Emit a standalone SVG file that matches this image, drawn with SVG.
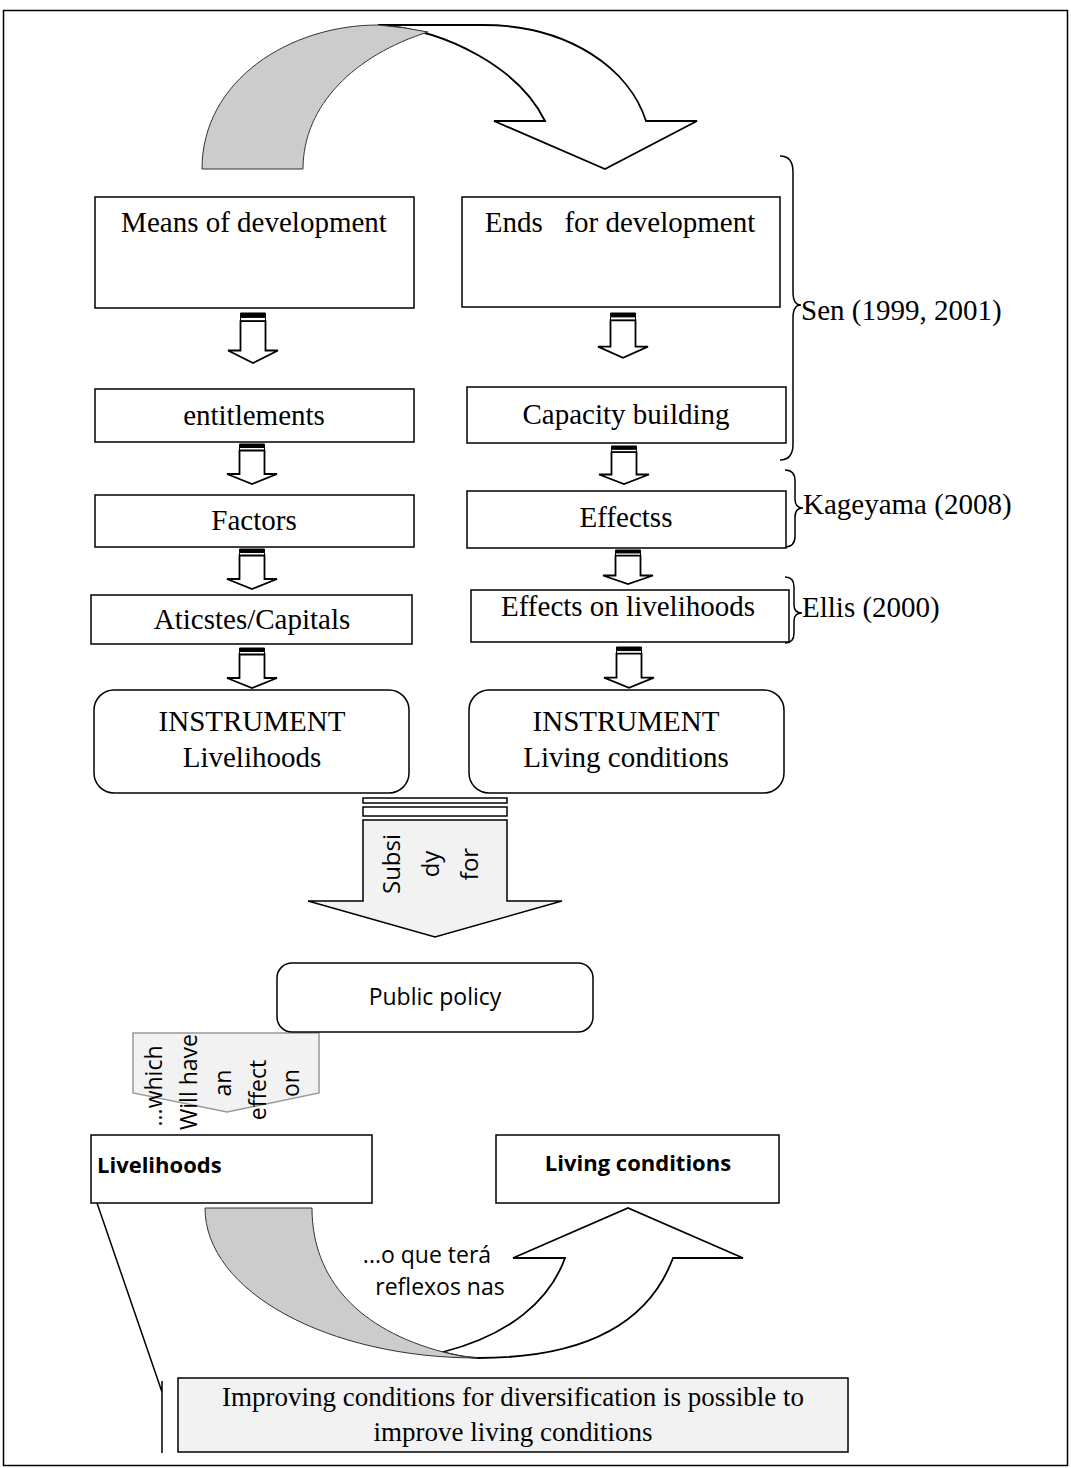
<svg xmlns="http://www.w3.org/2000/svg" xmlns:xlink="http://www.w3.org/1999/xlink" width="1071" height="1468" viewBox="0 0 1071 1468">
<style>
.box{fill:#fff;stroke:#000;stroke-width:1.5}
.lbox{fill:#f2f2f2;stroke:#000;stroke-width:1.5}
.t{font-family:"Liberation Serif","Times New Roman",serif;font-size:29px;fill:#000}
.tc{text-anchor:middle}
.s{font-family:"Open Sans","DejaVu Sans",sans-serif;fill:#000}
.ln{fill:none;stroke:#000;stroke-width:1.5}
.band{fill:#cccccc;stroke:#333;stroke-width:1}
.warr{fill:#fff;stroke:#000;stroke-width:1.8}
</style>
<defs>
<g id="sa">
<rect x="-12.5" y="0" width="25" height="3.5" fill="#000" stroke="#000" stroke-width="1" vector-effect="non-scaling-stroke"/>
<rect x="-12.5" y="3.5" width="25" height="3" fill="#fff" stroke="#000" stroke-width="1" vector-effect="non-scaling-stroke"/>
<path d="M-12.5,6.5 L12.5,6.5 L12.5,30 L25,30 L0,40 L-25,30 L-12.5,30 Z" fill="#fff" stroke="#000" stroke-width="1.8" vector-effect="non-scaling-stroke"/>
</g>
</defs>
<rect x="3.5" y="10.5" width="1064" height="1455" fill="#fff" stroke="#000" stroke-width="1.5"/>

<g id="connectors">
<!-- top curved arrow -->
<path class="warr" d="M378,25 L483,25 C570,25 630,70 646,121 L697,121 L605,169 L494,121 L545,121 C520,70 450,30 378,25 Z"/>
<path class="band" d="M202,169 C202,80 290,25 378,25 Q404,27 428,32 C355,55 303,105 303,169 Z"/>
<!-- small arrows left -->
<use xlink:href="#sa" href="#sa" transform="translate(253,313) scale(1,1.25)"/>
<use xlink:href="#sa" href="#sa" transform="translate(252,444)"/>
<use xlink:href="#sa" href="#sa" transform="translate(252,549)"/>
<use xlink:href="#sa" href="#sa" transform="translate(252,648)"/>
<!-- small arrows right -->
<use xlink:href="#sa" href="#sa" transform="translate(623,313) scale(1,1.12)"/>
<use xlink:href="#sa" href="#sa" transform="translate(624,446) scale(1,0.95)"/>
<use xlink:href="#sa" href="#sa" transform="translate(628,550) scale(1,0.85)"/>
<use xlink:href="#sa" href="#sa" transform="translate(629,647) scale(1,1.02)"/>
<!-- braces -->
<path class="ln" d="M780,156 Q793,156 793,172 L793,292 Q793,305 801,305 Q793,305 793,318 L793,444 Q793,460 780,460"/>
<path class="ln" d="M785,470 Q795,470 795,481 L795,499 Q795,508 803,508 Q795,508 795,517 L795,536 Q795,547 785,547"/>
<path class="ln" d="M785,577 Q794,577 794,587 L794,605 Q794,613 802,613 Q794,613 794,621 L794,633 Q794,643 785,643"/>
<!-- subsidy arrow -->
<rect x="363" y="798" width="144" height="5" fill="#fff" stroke="#000" stroke-width="1.5"/>
<rect x="363" y="807" width="144" height="9" fill="#fff" stroke="#000" stroke-width="1.5"/>
<path d="M363,820 L507,820 L507,901 L562,901 L435,937 L308,901 L363,901 Z" fill="#f2f2f2" stroke="#000" stroke-width="1.5"/>
<!-- which arrow -->
<path d="M133,1033 L319,1033 L319,1093 L227,1112 L133,1093 Z" fill="#f2f2f2" stroke="#999" stroke-width="1.5"/>
<!-- bottom curved arrow -->
<path class="warr" d="M443,1352 C510,1335 550,1300 565,1258 L513,1258 L628,1208 L743,1258 L673,1258 C650,1320 590,1358 478,1358 Q460,1357 443,1352 Z"/>
<path class="band" d="M205,1208 L312,1208 C312,1280 360,1330 443,1352 Q460,1357 478,1358 C327,1358 205,1291 205,1208 Z"/>
<!-- callout line -->
<path class="ln" d="M97,1203 L162,1392 M162,1381 L162,1453"/>
</g>

<g id="n-means"><rect class="box" x="95" y="197" width="319" height="111"/><text class="t tc" x="254" y="232">Means of development</text></g>
<g id="n-ends"><rect class="box" x="462" y="197" width="318" height="110"/><text class="t tc" x="620" y="232" xml:space="preserve">Ends   for development</text></g>
<g id="n-entitlements"><rect class="box" x="95" y="389" width="319" height="53"/><text class="t tc" x="254" y="425">entitlements</text></g>
<g id="n-capacity"><rect class="box" x="467" y="387" width="319" height="56"/><text class="t tc" x="626" y="424">Capacity building</text></g>
<g id="n-factors"><rect class="box" x="95" y="495" width="319" height="52"/><text class="t tc" x="254" y="530">Factors</text></g>
<g id="n-effectss"><rect class="box" x="467" y="491" width="319" height="57"/><text class="t tc" x="626" y="527">Effectss</text></g>
<g id="n-aticstes"><rect class="box" x="91" y="595" width="321" height="49"/><text class="t tc" x="252" y="629">Aticstes/Capitals</text></g>
<g id="n-effects-liv"><rect class="box" x="471" y="590" width="318" height="52"/><text class="t tc" x="628" y="616">Effects on livelihoods</text></g>
<g id="n-instr-liv"><rect class="box" x="94" y="690" width="315" height="103" rx="20"/><text class="t tc" x="252" y="731">INSTRUMENT</text><text class="t tc" x="252" y="767">Livelihoods</text></g>
<g id="n-instr-cond"><rect class="box" x="469" y="690" width="315" height="103" rx="20"/><text class="t tc" x="626" y="731">INSTRUMENT</text><text class="t tc" x="626" y="767">Living conditions</text></g>

<g id="l-sen"><text class="t" x="801" y="320">Sen (1999, 2001)</text></g>
<g id="l-kageyama"><text class="t" x="803" y="514">Kageyama (2008)</text></g>
<g id="l-ellis"><text class="t" x="802" y="617">Ellis (2000)</text></g>

<g id="l-subsidy" class="s" font-size="24" text-anchor="middle">
<text transform="translate(400,864) rotate(-90)">Subsi</text>
<text transform="translate(439,864) rotate(-90)">dy</text>
<text transform="translate(478,864) rotate(-90)">for</text>
</g>

<g id="n-public"><rect class="box" x="277" y="963" width="316" height="69" rx="15"/><text class="s" font-size="23" text-anchor="middle" x="435" y="1005">Public policy</text></g>

<g id="l-which" class="s" font-size="23" text-anchor="middle">
<text transform="translate(162,1086) rotate(-90)">...which</text>
<text transform="translate(197,1082) rotate(-90)">Will have</text>
<text transform="translate(231,1083) rotate(-90)">an</text>
<text transform="translate(266,1090) rotate(-90)">effect</text>
<text transform="translate(299,1083) rotate(-90)">on</text>
</g>

<g id="n-livelihoods"><rect class="box" x="91" y="1135" width="281" height="68"/><text class="s" font-size="22" font-weight="bold" x="97" y="1173">Livelihoods</text></g>
<g id="n-living"><rect class="box" x="496" y="1135" width="283" height="68"/><text class="s" font-size="22" font-weight="bold" text-anchor="middle" x="638" y="1171">Living conditions</text></g>

<g id="l-reflexos" class="s" font-size="23" text-anchor="middle">
<text x="427" y="1263">...o que terá</text>
<text x="440" y="1295">reflexos nas</text>
</g>

<g id="n-improving"><rect class="lbox" x="178" y="1378" width="670" height="74"/><text class="t tc" x="513" y="1406" style="font-size:27px">Improving conditions for diversification is possible to</text><text class="t tc" x="513" y="1441" style="font-size:27px">improve living conditions</text></g>
</svg>
